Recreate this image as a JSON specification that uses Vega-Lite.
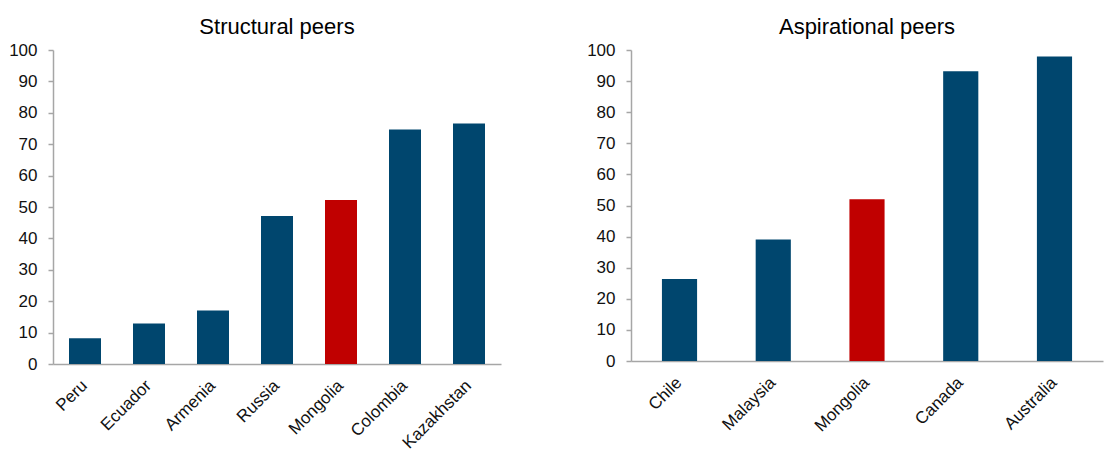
{
  "$schema": "https://vega.github.io/schema/vega-lite/v6.json",
  "padding": {"left": 8, "top": 16, "right": 2, "bottom": 2},
  "background": "white",
  "spacing": 85,
  "config": {
    "font": "Liberation Sans",
    "view": {"stroke": null},
    "title": {"fontSize": 22, "fontWeight": "normal", "color": "#000000", "anchor": "middle", "offset": 2},
    "axisY": {
      "domainColor": "#a6a6a6",
      "domainWidth": 1.5,
      "tickColor": "#a6a6a6",
      "tickWidth": 1.5,
      "tickSize": 5,
      "labelPadding": 11,
      "labelFontSize": 17,
      "labelColor": "#111111",
      "grid": false,
      "title": null,
      "values": [0, 10, 20, 30, 40, 50, 60, 70, 80, 90, 100]
    },
    "axisX": {
      "domainColor": "#a6a6a6",
      "domainWidth": 1.5,
      "ticks": false,
      "labelAngle": -45,
      "labelFontSize": 17,
      "labelColor": "#111111",
      "labelPadding": 13,
      "labelOffset": -6,
      "title": null
    }
  },
  "datasets": {
    "structural": [
      {"country": "Peru", "value": 8.2, "group": "peer"},
      {"country": "Ecuador", "value": 12.9, "group": "peer"},
      {"country": "Armenia", "value": 17.0, "group": "peer"},
      {"country": "Russia", "value": 47.1, "group": "peer"},
      {"country": "Mongolia", "value": 52.2, "group": "Mongolia"},
      {"country": "Colombia", "value": 74.7, "group": "peer"},
      {"country": "Kazakhstan", "value": 76.6, "group": "peer"}
    ],
    "aspirational": [
      {"country": "Chile", "value": 26.4, "group": "peer"},
      {"country": "Malaysia", "value": 39.1, "group": "peer"},
      {"country": "Mongolia", "value": 52.0, "group": "Mongolia"},
      {"country": "Canada", "value": 93.2, "group": "peer"},
      {"country": "Australia", "value": 97.9, "group": "peer"}
    ]
  },
  "hconcat": [
    {
      "title": "Structural peers",
      "data": {"name": "structural"},
      "width": 448,
      "height": 314,
      "mark": {"type": "bar"},
      "encoding": {
        "x": {
          "field": "country",
          "type": "nominal",
          "sort": null,
          "scale": {"paddingInner": 0.5, "paddingOuter": 0.25}
        },
        "y": {
          "field": "value",
          "type": "quantitative",
          "scale": {"domain": [0, 100], "nice": false}
        },
        "color": {
          "field": "group",
          "type": "nominal",
          "scale": {"domain": ["peer", "Mongolia"], "range": ["#00466e", "#c00000"]},
          "legend": null
        }
      }
    },
    {
      "title": "Aspirational peers",
      "data": {"name": "aspirational"},
      "width": 472,
      "height": 311,
      "mark": {"type": "bar"},
      "encoding": {
        "x": {
          "field": "country",
          "type": "nominal",
          "sort": null,
          "scale": {"paddingInner": 0.625, "paddingOuter": 0.33}
        },
        "y": {
          "field": "value",
          "type": "quantitative",
          "scale": {"domain": [0, 100], "nice": false}
        },
        "color": {
          "field": "group",
          "type": "nominal",
          "scale": {"domain": ["peer", "Mongolia"], "range": ["#00466e", "#c00000"]},
          "legend": null
        }
      }
    }
  ],
  "resolve": {"scale": {"color": "independent"}}
}
